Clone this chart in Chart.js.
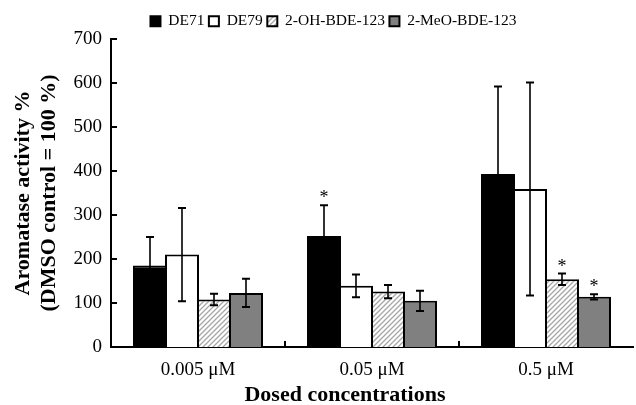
<!DOCTYPE html>
<html><head><meta charset="utf-8">
<script src="https://cdn.jsdelivr.net/npm/chart.js@4"></script>
<style>html,body{margin:0;padding:0;background:#fff}#wrap{width:636px;height:405px}</style>
</head><body><div id="wrap"><canvas id="c" width="636" height="405"></canvas></div>
<script>
const categories = ['0.005 \u03bcM', '0.05 \u03bcM', '0.5 \u03bcM'];
const seriesNames = ['DE71', 'DE79', '2-OH-BDE-123', '2-MeO-BDE-123'];
const de71 = [185, 252, 393];
const de71Err = [65, 70, 199];
const de79 = [210, 139, 359];
const de79Err = [106, 26, 242];
const ohBde = [108, 126, 154];
const ohBdeErr = [13, 15, 13];
const meoBde = [123, 105, 114];
const meoBdeErr = [32, 23, 6];
const de71Sig = [false, true, false];
const de79Sig = [false, false, false];
const ohBdeSig = [false, false, true];
const meoBdeSig = [false, false, true];
const yTicks = [0, 100, 200, 300, 400, 500, 600, 700];
const yTitle = ['Aromatase activity %', '(DMSO control = 100 %)'];
const xTitle = 'Dosed concentrations';

const canvas = document.getElementById('c');
const ctx0 = canvas.getContext('2d');
function makeHatch() {
  const s = 5;
  const t = document.createElement('canvas');
  t.width = s; t.height = s;
  const g = t.getContext('2d');
  g.fillStyle = '#fff'; g.fillRect(0, 0, s, s);
  g.strokeStyle = '#a6a6a6'; g.lineWidth = 1.3;
  g.beginPath();
  g.moveTo(0, s); g.lineTo(s, 0);
  g.moveTo(-1, 1); g.lineTo(1, -1);
  g.moveTo(s - 1, s + 1); g.lineTo(s + 1, s - 1);
  g.stroke();
  return ctx0.createPattern(t, 'repeat');
}
const hatch = makeHatch();
const errs = [de71Err, de79Err, ohBdeErr, meoBdeErr];
const sigs = [de71Sig, de79Sig, ohBdeSig, meoBdeSig];

const serif = 'Liberation Serif';

const extras = {
  id: 'extras',
  afterLayout(chart) {
    if (chart.legend) { chart.legend.left += 12; chart.legend.right += 12; }
  },
  afterDatasetsDraw(chart) {
    const ctx = chart.ctx, y = chart.scales.y;
    ctx.save();
    ctx.strokeStyle = '#000';
    chart.data.datasets.forEach((ds, i) => {
      const meta = chart.getDatasetMeta(i);
      meta.data.forEach((bar, j) => {
        const v = ds.data[j], e = errs[i][j];
        const x = bar.x;
        const yt = y.getPixelForValue(v + e), yb = y.getPixelForValue(v - e);
        ctx.lineWidth = 1.6;
        ctx.beginPath(); ctx.moveTo(x, yt); ctx.lineTo(x, yb); ctx.stroke();
        ctx.lineWidth = 2;
        ctx.beginPath();
        ctx.moveTo(x - 4, yt); ctx.lineTo(x + 4, yt);
        ctx.moveTo(x - 4, yb); ctx.lineTo(x + 4, yb);
        ctx.stroke();
        if (sigs[i][j]) {
          ctx.fillStyle = '#000';
          ctx.font = '18px "' + serif + '"';
          ctx.textAlign = 'center';
          ctx.textBaseline = 'alphabetic';
          ctx.fillText('*', x, yt - 2);
        }
      });
    });
    ctx.restore();
  },
  afterDraw(chart) {
    const ctx = chart.ctx, a = chart.chartArea, y = chart.scales.y, x = chart.scales.x;
    ctx.save();
    ctx.strokeStyle = '#000';
    ctx.lineWidth = 2;
    ctx.beginPath();
    y.ticks.forEach(t => {
      const p = Math.round(y.getPixelForValue(t.value));
      ctx.moveTo(a.left, p); ctx.lineTo(a.left + 6, p);
    });
    for (let i = 0; i < categories.length - 1; i++) {
      const p = Math.round((x.getPixelForValue(i) + x.getPixelForValue(i + 1)) / 2);
      ctx.moveTo(p, a.bottom); ctx.lineTo(p, a.bottom - 6);
    }
    ctx.stroke();
    ctx.fillStyle = '#000';
    ctx.font = 'bold 22px "' + serif + '"';
    ctx.textAlign = 'center';
    ctx.textBaseline = 'middle';
    ctx.fillText(xTitle, 345, 395);
    ctx.restore();
  }
};

new Chart(canvas, {
  type: 'bar',
  data: {
    labels: categories,
    datasets: [
      { label: seriesNames[0], data: de71, backgroundColor: '#000', borderColor: '#000', borderWidth: 2 },
      { label: seriesNames[1], data: de79, backgroundColor: '#fff', borderColor: '#000', borderWidth: 2 },
      { label: seriesNames[2], data: ohBde, backgroundColor: hatch, borderColor: '#000', borderWidth: 2 },
      { label: seriesNames[3], data: meoBde, backgroundColor: '#808080', borderColor: '#000', borderWidth: 2 }
    ]
  },
  options: {
    responsive: false,
    animation: false,
    devicePixelRatio: 1,
    categoryPercentage: 128 / 174,
    barPercentage: 34 / 32,
    layout: { padding: { left: 10, right: 3, top: 9, bottom: 0 } },
    plugins: {
      legend: {
        position: 'top',
        labels: {
          boxWidth: 10, boxHeight: 10, padding: 4.5, color: '#000',
          font: { family: serif, size: 15.5 }
        }
      },
      tooltip: { enabled: false }
    },
    scales: {
      x: {
        grid: { display: false, drawTicks: false },
        border: { display: true, color: '#000', width: 2 },
        ticks: { color: '#000', padding: 12, font: { family: serif, size: 19 } },
        afterFit(s) { s.height = 58; }
      },
      y: {
        min: 0, max: 700,
        afterBuildTicks(s) { s.ticks = yTicks.map(v => ({ value: v })); },
        grid: { display: false, drawTicks: false },
        border: { display: true, color: '#000', width: 2 },
        ticks: { color: '#000', padding: 9, font: { family: serif, size: 19 } },
        title: {
          display: true, text: yTitle, color: '#000', padding: 0,
          font: { family: serif, size: 22, weight: 'bold', lineHeight: 1.2 }
        },
        afterFit(s) { s.width = 101; }
      }
    }
  },
  plugins: [extras]
});
</script></body></html>
